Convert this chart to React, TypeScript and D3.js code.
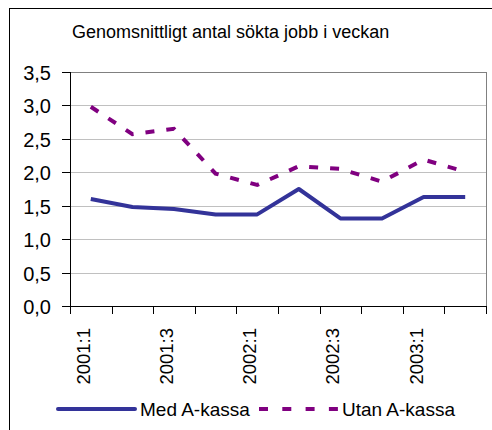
import * as d3 from "d3";

const QUARTERS = [
  "2001:1", "2001:2", "2001:3", "2001:4",
  "2002:1", "2002:2", "2002:3", "2002:4",
  "2003:1", "2003:2",
];
const MED_KASSA = [1.6, 1.48, 1.45, 1.37, 1.37, 1.75, 1.31, 1.31, 1.63, 1.63];
const UTAN_KASSA = [2.98, 2.57, 2.65, 1.98, 1.81, 2.09, 2.05, 1.86, 2.19, 2.01];
const Y_TICKS = [0, 0.5, 1, 1.5, 2, 2.5, 3, 3.5];

const W = 492;
const H = 430;
const plot = { left: 70, right: 486, top: 72, bottom: 306 };
const FONT = "'Liberation Sans', Arial, sans-serif";
const BLUE = "#333399";
const PURPLE = "#800080";

const fmt = (v: number) => v.toFixed(1).replace(".", ",");

export default function App() {
  const x = d3
    .scaleBand<string>()
    .domain(QUARTERS)
    .range([plot.left, plot.right]);
  const y = d3
    .scaleLinear()
    .domain([0, 3.5])
    .range([plot.bottom, plot.top]);
  const cx = (q: string) => (x(q) ?? 0) + x.bandwidth() / 2;

  const line = d3
    .line<number>()
    .x((_, i) => cx(QUARTERS[i]))
    .y((d) => y(d));

  const boundaries = [...QUARTERS.map((q) => x(q) ?? 0), plot.right];

  return (
    <svg
      width={W}
      height={H}
      style={{ position: "absolute", left: 0, top: 0 }}
      fontFamily={FONT}
    >
      <rect width={W} height={H} fill="#fff" />
      {/* outer chart frame, cut off on the right and bottom */}
      <rect x={9.5} y={8.5} width={W + 10} height={H + 10} fill="none" stroke="#000" />

      <text x={72} y={38} fontSize={18} fill="#000">
        Genomsnittligt antal sökta jobb i veckan
      </text>

      {/* grid */}
      {Y_TICKS.filter((t) => t > 0).map((t) => (
        <line
          key={t}
          x1={plot.left}
          x2={plot.right}
          y1={Math.round(y(t)) + 0.5}
          y2={Math.round(y(t)) + 0.5}
          stroke="#c0c0c0"
        />
      ))}
      <rect
        x={plot.left + 0.5}
        y={plot.top + 0.5}
        width={plot.right - plot.left}
        height={plot.bottom - plot.top}
        fill="none"
        stroke="#808080"
      />

      {/* y axis */}
      <line x1={plot.left + 0.5} x2={plot.left + 0.5} y1={plot.top} y2={plot.bottom} stroke="#000" />
      {Y_TICKS.map((t) => (
        <g key={t} transform={`translate(0,${Math.round(y(t)) + 0.5})`}>
          <line x1={plot.left - 8} x2={plot.left} stroke="#000" />
          <text x={51} dy="0.35em" textAnchor="end" fontSize={20} fill="#000">
            {fmt(t)}
          </text>
        </g>
      ))}

      {/* x axis */}
      <line x1={plot.left} x2={plot.right + 1} y1={plot.bottom + 0.5} y2={plot.bottom + 0.5} stroke="#000" />
      {boundaries.map((b, i) => (
        <line
          key={i}
          x1={Math.round(b) + 0.5}
          x2={Math.round(b) + 0.5}
          y1={plot.bottom}
          y2={plot.bottom + 8}
          stroke="#000"
        />
      ))}
      {QUARTERS.map((q, i) =>
        i % 2 === 0 ? (
          <text
            key={q}
            transform={`translate(${cx(q) - 1},328) rotate(-90)`}
            textAnchor="end"
            fontSize={18.5}
            fill="#000"
          >
            {q}
          </text>
        ) : null
      )}

      {/* series */}
      <path d={line(MED_KASSA) ?? ""} fill="none" stroke={BLUE} strokeWidth={4} strokeLinejoin="round" />
      <path
        d={line(UTAN_KASSA) ?? ""}
        fill="none"
        stroke={PURPLE}
        strokeWidth={4}
        strokeDasharray="9 12"
      />

      {/* legend */}
      <line x1={58} x2={135} y1={409} y2={409} stroke={BLUE} strokeWidth={4} strokeLinecap="round" />
      <text x={140} y={416} fontSize={19} fill="#000">Med A-kassa</text>
      <line x1={259} x2={338} y1={409} y2={409} stroke={PURPLE} strokeWidth={4} strokeDasharray="9 14.3" />
      <text x={342} y={416} fontSize={19} fill="#000">Utan A-kassa</text>
    </svg>
  );
}
